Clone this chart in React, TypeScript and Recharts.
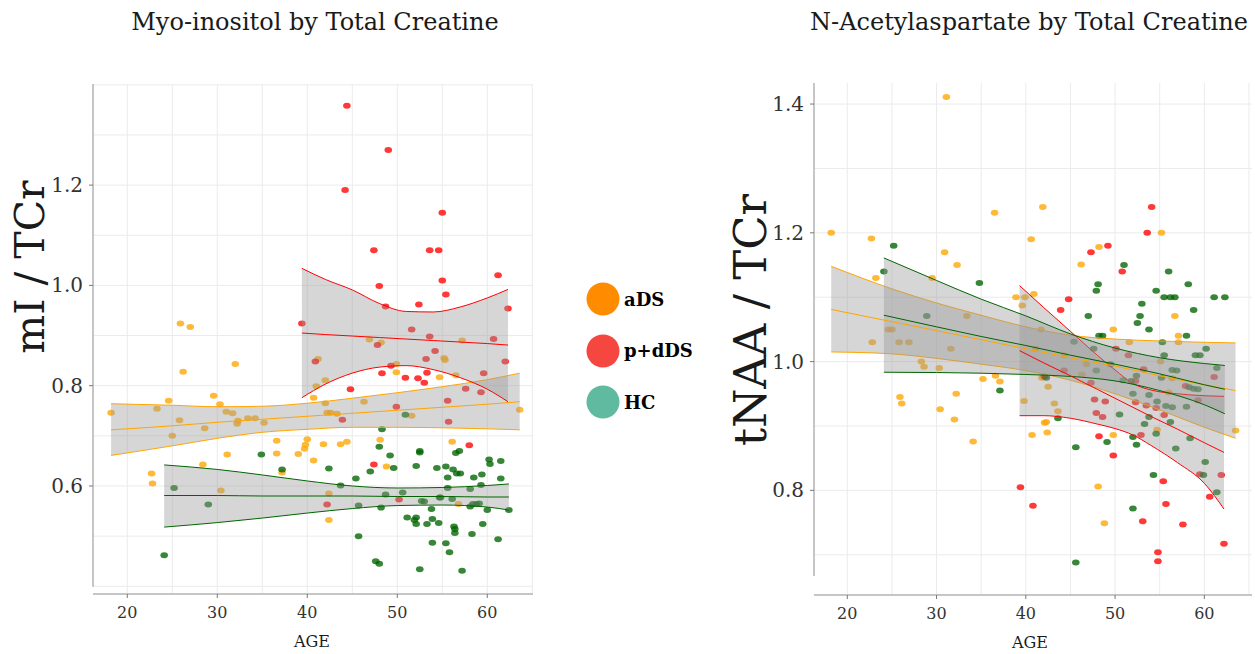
import React from 'react';
import { ComposedChart, Scatter, Area, Line, XAxis, YAxis, CartesianGrid, ReferenceLine } from 'recharts';

const FONT = '"DejaVu Serif", serif';

type Pt = [number, number];

// ---------- shared ticks ----------
const ageTicks = [20, 30, 40, 50, 60];
const ageGrid = [20, 25, 30, 35, 40, 45, 50, 55, 60, 65];
const miTicks = [0.6, 0.8, 1.0, 1.2];
const miGrid = [0.4, 0.5, 0.6, 0.7, 0.8, 0.9, 1.0, 1.1, 1.2, 1.3, 1.4];
const naaTicks = [0.8, 1.0, 1.2, 1.4];
const naaGrid = [0.7, 0.8, 0.9, 1.0, 1.1, 1.2, 1.3, 1.4];

const groupNames = ['aDS', 'p+dDS', 'HC'];
const groupColors = ['#FFA500', '#FF0000', '#006400'];
const legendColors = ['#FF8C00', '#F5473F', '#5FBA9F'];

// ---------- Myo-inositol / TCr points ----------
const miADS: Pt[] = [
  [18.2, 0.746], [22.7, 0.625], [22.8, 0.605], [23.3, 0.754], [24.6, 0.770], [25.0, 0.700], [25.8, 0.731],
  [25.9, 0.924], [26.2, 0.828], [27.0, 0.917], [28.4, 0.643], [28.6, 0.715], [29.6, 0.780], [30.3, 0.763],
  [30.4, 0.591], [31.0, 0.748], [31.1, 0.663], [31.7, 0.745], [32.0, 0.843], [32.2, 0.724], [32.3, 0.730],
  [33.4, 0.735], [34.2, 0.735], [35.2, 0.726], [36.6, 0.690], [36.6, 0.665], [37.2, 0.627], [39.0, 0.664],
  [39.7, 0.674], [39.8, 0.682], [40.0, 0.693], [40.7, 0.651], [40.7, 0.776], [41.0, 0.799], [41.2, 0.853],
  [41.8, 0.683], [42.0, 0.811], [42.0, 0.765], [42.2, 0.746], [42.4, 0.585], [42.4, 0.532], [42.6, 0.746],
  [43.3, 0.744], [43.7, 0.683], [44.4, 0.688], [46.3, 0.768], [46.9, 0.892], [48.1, 0.692], [48.2, 0.886],
  [48.8, 0.639], [49.9, 0.843], [49.9, 0.827], [51.6, 0.740], [54.7, 0.817], [55.2, 0.855], [55.3, 0.851],
  [56.1, 0.688], [56.5, 0.821], [56.8, 0.564], [57.2, 0.890], [63.6, 0.752],
];
const miPDDS: Pt[] = [
  [39.4, 0.924], [40.9, 0.848], [42.2, 0.563], [43.9, 0.732], [44.2, 1.190], [44.4, 1.358], [44.8, 0.793],
  [47.4, 1.070], [47.4, 0.643], [47.8, 0.881], [48.0, 0.999], [48.3, 0.825], [48.7, 0.958], [49.0, 1.270],
  [49.3, 0.840], [49.9, 0.758], [50.2, 0.573], [50.9, 0.816], [51.6, 0.912], [52.3, 0.815], [52.4, 0.962],
  [53.0, 0.806], [53.2, 0.853], [53.3, 0.826], [53.6, 1.070], [53.6, 0.898], [54.2, 0.869], [54.6, 1.070],
  [55.0, 1.145], [55.0, 1.010], [55.4, 0.982], [55.6, 0.770], [55.7, 0.728], [57.6, 0.794], [58.0, 0.681],
  [59.3, 0.787], [59.6, 0.825], [60.7, 0.893], [61.2, 1.020], [62.0, 0.848], [62.3, 0.954],
];
const miHC: Pt[] = [
  [24.1, 0.462], [25.2, 0.596], [29.0, 0.563], [34.9, 0.663], [37.2, 0.633], [42.4, 0.635], [43.7, 0.601],
  [45.4, 0.615], [45.7, 0.561], [45.7, 0.500], [47.0, 0.629], [47.6, 0.450], [48.0, 0.445], [48.0, 0.678],
  [48.2, 0.557], [48.3, 0.713], [48.7, 0.583], [49.2, 0.661], [49.6, 0.636], [50.6, 0.587], [50.9, 0.742],
  [51.1, 0.537], [51.9, 0.532], [52.1, 0.640], [52.1, 0.537], [52.1, 0.524], [52.5, 0.670], [52.5, 0.667],
  [52.5, 0.434], [52.7, 0.570], [53.0, 0.569], [53.3, 0.524], [53.8, 0.554], [53.9, 0.534], [53.9, 0.487],
  [54.4, 0.636], [54.6, 0.526], [54.7, 0.577], [54.8, 0.577], [55.4, 0.639], [55.4, 0.486], [55.6, 0.617],
  [55.6, 0.596], [55.8, 0.468], [56.1, 0.574], [56.2, 0.633], [56.3, 0.519], [56.4, 0.514], [56.4, 0.506],
  [56.5, 0.666], [56.6, 0.625], [56.9, 0.670], [57.0, 0.625], [57.2, 0.431], [58.1, 0.594], [58.1, 0.559],
  [58.3, 0.504], [58.4, 0.564], [58.5, 0.617], [58.8, 0.564], [59.1, 0.565], [59.3, 0.602], [59.4, 0.623],
  [59.5, 0.524], [60.0, 0.552], [60.2, 0.653], [60.3, 0.644], [61.2, 0.494], [61.5, 0.650], [61.5, 0.615],
  [62.4, 0.552],
];

// ---------- Myo-inositol fits (age, lower, fit, upper) ----------
const miFitAgeADS = [18.2, 25, 30, 35, 40, 45, 50, 55, 60, 63.6];
const miLoADS = [0.661, 0.680, 0.695, 0.707, 0.713, 0.717, 0.717, 0.716, 0.714, 0.712];
const miMidADS = [0.712, 0.720, 0.727, 0.733, 0.739, 0.745, 0.751, 0.757, 0.763, 0.768];
const miHiADS = [0.764, 0.761, 0.758, 0.759, 0.765, 0.775, 0.786, 0.798, 0.812, 0.825];

const miFitAgePD = [39.4, 42, 45, 48, 51, 54, 57, 60, 62.3];
const miLoPD = [0.776, 0.803, 0.825, 0.837, 0.840, 0.832, 0.816, 0.793, 0.768];
const miMidPD = [0.905, 0.902, 0.899, 0.896, 0.893, 0.890, 0.887, 0.884, 0.881];
const miHiPD = [1.034, 1.012, 0.991, 0.964, 0.948, 0.947, 0.957, 0.975, 0.992];

const miFitAgeHC = [24.1, 30, 35, 40, 45, 50, 55, 60, 62.4];
const miLoHC = [0.518, 0.527, 0.536, 0.546, 0.555, 0.561, 0.562, 0.558, 0.552];
const miMidHC = [0.581, 0.581, 0.580, 0.580, 0.580, 0.579, 0.579, 0.578, 0.578];
const miHiHC = [0.642, 0.633, 0.622, 0.610, 0.600, 0.596, 0.597, 0.601, 0.604];

// ---------- N-Acetylaspartate / TCr points ----------
const naaADS: Pt[] = [
  [18.2, 1.200], [22.7, 1.191], [22.8, 1.030], [23.2, 1.130], [24.6, 1.050], [25.0, 1.050], [25.8, 1.030],
  [25.9, 0.945], [26.1, 0.935], [26.9, 1.030], [28.3, 1.000], [28.6, 0.992], [29.5, 1.130], [30.3, 0.990],
  [30.4, 0.926], [30.9, 1.170], [31.1, 1.411], [31.6, 1.020], [32.0, 0.910], [32.2, 0.950], [32.3, 1.150],
  [33.4, 1.071], [34.1, 0.876], [35.2, 0.973], [36.5, 1.231], [36.6, 0.978], [37.1, 0.969], [38.9, 1.100],
  [39.6, 1.087], [39.8, 0.939], [39.9, 1.100], [40.6, 1.190], [40.7, 0.886], [40.9, 1.105], [41.1, 1.020],
  [41.7, 1.050], [41.8, 0.975], [41.9, 1.240], [42.0, 0.976], [42.1, 0.905], [42.3, 0.906], [42.4, 0.890],
  [42.5, 0.961], [43.2, 0.935], [43.6, 0.923], [44.3, 1.010], [46.2, 1.151], [46.3, 0.980], [46.8, 0.996],
  [48.1, 0.806], [48.2, 1.178], [48.8, 0.749], [49.8, 1.050], [49.8, 0.886], [51.6, 1.030], [54.7, 0.894],
  [55.1, 1.000], [55.2, 1.200], [56.0, 0.952], [56.4, 0.974], [56.7, 1.071], [57.1, 1.040], [57.1, 1.030],
  [63.5, 0.893],
];
const naaPDDS: Pt[] = [
  [39.4, 0.805], [40.8, 0.776], [42.1, 0.977], [43.9, 1.080], [44.3, 0.986], [44.8, 1.097], [47.3, 1.170],
  [47.3, 0.967], [47.7, 0.941], [47.9, 0.920], [48.2, 0.884], [48.6, 0.914], [48.9, 0.938], [49.2, 1.180],
  [49.8, 0.854], [50.1, 1.020], [50.8, 1.140], [51.5, 1.010], [52.3, 0.970], [52.3, 0.937], [52.9, 0.886],
  [53.1, 0.752], [53.2, 0.988], [53.5, 0.932], [53.6, 1.200], [54.1, 1.240], [54.6, 0.928], [54.8, 0.704],
  [54.8, 0.690], [55.4, 0.814], [55.5, 0.917], [55.7, 0.779], [57.6, 0.747], [57.9, 0.962], [59.3, 0.940],
  [59.5, 0.825], [60.6, 0.790], [61.1, 0.976], [61.9, 0.824], [62.2, 0.717],
];
const naaHC: Pt[] = [
  [24.1, 1.140], [25.2, 1.180], [28.9, 1.071], [34.8, 1.122], [37.1, 0.955], [42.3, 0.975], [43.6, 0.912],
  [45.4, 1.031], [45.6, 0.867], [45.6, 0.688], [47.0, 1.071], [47.6, 1.020], [47.9, 1.110], [47.9, 0.986],
  [48.1, 1.120], [48.2, 1.040], [48.6, 1.040], [49.1, 0.875], [49.5, 0.996], [50.5, 0.918], [50.9, 0.971],
  [51.0, 1.150], [51.8, 0.970], [52.0, 0.950], [52.0, 0.883], [52.0, 0.772], [52.4, 0.978], [52.4, 0.871],
  [52.5, 1.060], [52.8, 1.071], [53.0, 1.090], [53.3, 0.903], [53.8, 1.050], [53.8, 0.948], [53.8, 0.914],
  [54.3, 0.824], [54.6, 1.110], [54.6, 0.888], [54.7, 0.938], [55.2, 0.975], [55.3, 1.030], [55.5, 1.100],
  [55.5, 1.010], [55.7, 0.931], [56.0, 1.140], [56.2, 1.100], [56.2, 0.906], [56.4, 0.929], [56.4, 0.987],
  [56.7, 1.100], [56.8, 0.865], [56.9, 0.986], [58.0, 1.040], [58.0, 0.930], [58.2, 1.120], [58.3, 0.960],
  [58.4, 0.881], [58.8, 1.080], [58.8, 0.958], [59.0, 1.010], [59.3, 0.957], [59.5, 1.010], [59.9, 0.824],
  [60.1, 0.844], [60.2, 1.020], [61.1, 1.100], [61.4, 0.990], [61.4, 0.797], [62.3, 1.100],
];

// ---------- N-Acetylaspartate fits ----------
const naaFitAgeADS = [18.2, 25, 30, 35, 40, 45, 50, 55, 60, 63.5];
const naaLoADS = [1.015, 1.012, 1.005, 0.996, 0.986, 0.971, 0.950, 0.925, 0.898, 0.881];
const naaMidADS = [1.081, 1.062, 1.048, 1.034, 1.020, 1.006, 0.993, 0.978, 0.964, 0.955];
const naaHiADS = [1.148, 1.113, 1.091, 1.072, 1.054, 1.041, 1.035, 1.032, 1.030, 1.029];

const naaFitAgePD = [39.3, 42, 45, 48, 50, 52, 54, 57, 60, 62.2];
const naaLoPD = [0.916, 0.916, 0.912, 0.903, 0.896, 0.886, 0.870, 0.843, 0.811, 0.771];
const naaMidPD = [1.017, 0.998, 0.978, 0.957, 0.943, 0.929, 0.915, 0.895, 0.874, 0.859];
const naaHiPD = [1.118, 1.084, 1.047, 1.010, 0.987, 0.966, 0.956, 0.950, 0.947, 0.946];

const naaFitAgeHC = [24.1, 30, 35, 40, 45, 50, 55, 60, 62.3];
const naaLoHC = [0.9835, 0.983, 0.982, 0.980, 0.977, 0.970, 0.955, 0.933, 0.919];
const naaMidHC = [1.072, 1.054, 1.039, 1.025, 1.010, 0.996, 0.981, 0.964, 0.957];
const naaHiHC = [1.161, 1.126, 1.097, 1.071, 1.043, 1.021, 1.006, 0.997, 0.994];

// ---------- helpers ----------
const toPoints = (arr: Pt[]) => arr.map(([age, value]) => ({ age, value }));
const toFit = (ages: number[], lo: number[], mid: number[], hi: number[]) =>
  ages.map((age, i) => ({ age, band: [lo[i], hi[i]], mid: mid[i] }));

const makeDot = (color: string) => (props: any) => {
  if (props.cx == null || props.cy == null) return <g />;
  return <ellipse cx={props.cx} cy={props.cy} rx={3.8} ry={3.0} fill={color} fillOpacity={0.78} />;
};

type Group = { points: { age: number; value: number }[]; fit: any[]; color: string };

type PanelProps = {
  left: number;
  width: number;
  plotLeft: number;
  plotRight: number;
  plotTop: number;
  plotBottom: number;
  xDomain: [number, number];
  yDomain: [number, number];
  yAxisLow: number;
  yTicks: number[];
  hGrid: number[];
  groups: Group[];
};

const Y_W = 60;
const X_H = 60;

function Panel(p: PanelProps) {
  return (
    <div style={{ position: 'absolute', left: p.left, top: 0 }}>
      <ComposedChart
        width={p.width}
        height={654}
        margin={{ top: p.plotTop, right: p.width - p.plotRight, bottom: 654 - p.plotBottom - X_H, left: p.plotLeft - Y_W }}
      >
        <CartesianGrid stroke="#ebebeb" strokeWidth={1} horizontalValues={p.hGrid} verticalValues={ageGrid} />
        <XAxis
          type="number"
          dataKey="age"
          domain={p.xDomain}
          ticks={ageTicks}
          allowDataOverflow
          height={X_H}
          tickSize={4}
          tickMargin={9}
          tick={{ fontSize: 16, fill: '#333', fontFamily: FONT }}
          tickLine={{ stroke: '#777' }}
          axisLine={{ stroke: '#b3b3b3', strokeWidth: 1.5 }}
        />
        <YAxis
          type="number"
          dataKey="value"
          domain={p.yDomain}
          ticks={p.yTicks}
          allowDataOverflow
          width={Y_W}
          tickSize={4}
          tickMargin={6}
          tickFormatter={(v: number) => v.toFixed(1)}
          tick={{ fontSize: 20, fill: '#333', fontFamily: FONT }}
          tickLine={{ stroke: '#777' }}
          axisLine={false}
        />
        <ReferenceLine
          segment={[
            { x: p.xDomain[0], y: p.yAxisLow },
            { x: p.xDomain[0], y: p.yDomain[1] },
          ]}
          stroke="#b3b3b3"
          strokeWidth={1.5}
          ifOverflow="visible"
        />
        {p.groups.map((g, i) => (
          <Scatter key={'s' + i} data={g.points} shape={makeDot(g.color)} isAnimationActive={false} />
        ))}
        {p.groups.map((g, i) => (
          <Area
            key={'a' + i}
            data={g.fit}
            dataKey="band"
            type="monotone"
            stroke={g.color}
            strokeWidth={1}
            fill="#999999"
            fillOpacity={0.4}
            dot={false}
            activeDot={false}
            isAnimationActive={false}
            zIndex={700}
          />
        ))}
        {p.groups.map((g, i) => (
          <Line
            key={'l' + i}
            data={g.fit}
            dataKey="mid"
            type="monotone"
            stroke={g.color}
            strokeWidth={1}
            dot={false}
            activeDot={false}
            isAnimationActive={false}
            zIndex={800}
          />
        ))}
      </ComposedChart>
    </div>
  );
}

const txt: React.CSSProperties = { position: 'absolute', fontFamily: FONT, color: '#1a1a1a', whiteSpace: 'nowrap', lineHeight: 1 };

export default function App() {
  const miGroups: Group[] = [
    { points: toPoints(miADS), fit: toFit(miFitAgeADS, miLoADS, miMidADS, miHiADS), color: groupColors[0] },
    { points: toPoints(miPDDS), fit: toFit(miFitAgePD, miLoPD, miMidPD, miHiPD), color: groupColors[1] },
    { points: toPoints(miHC), fit: toFit(miFitAgeHC, miLoHC, miMidHC, miHiHC), color: groupColors[2] },
  ];
  const naaGroups: Group[] = [
    { points: toPoints(naaADS), fit: toFit(naaFitAgeADS, naaLoADS, naaMidADS, naaHiADS), color: groupColors[0] },
    { points: toPoints(naaPDDS), fit: toFit(naaFitAgePD, naaLoPD, naaMidPD, naaHiPD), color: groupColors[1] },
    { points: toPoints(naaHC), fit: toFit(naaFitAgeHC, naaLoHC, naaMidHC, naaHiHC), color: groupColors[2] },
  ];

  return (
    <div style={{ position: 'absolute', left: 0, top: 0, width: 1255, height: 654, background: '#fff', overflow: 'hidden' }}>
      <Panel
        left={0}
        width={560}
        plotLeft={93}
        plotRight={533}
        plotTop={84}
        plotBottom={594}
        xDomain={[16.19, 65.08]}
        yDomain={[0.3846, 1.4016]}
        yAxisLow={0.399}
        yTicks={miTicks}
        hGrid={miGrid}
        groups={miGroups}
      />
      <Panel
        left={700}
        width={555}
        plotLeft={114}
        plotRight={552}
        plotTop={83}
        plotBottom={595}
        xDomain={[16.27, 65.34]}
        yDomain={[0.6375, 1.4327]}
        yAxisLow={0.667}
        yTicks={naaTicks}
        hGrid={naaGrid}
        groups={naaGroups}
      />

      {/* titles */}
      <div style={{ ...txt, left: 15, width: 600, top: 10, fontSize: 24, textAlign: 'center' }}>Myo-inositol by Total Creatine</div>
      <div style={{ ...txt, left: 729, width: 600, top: 10, fontSize: 24, textAlign: 'center' }}>N-Acetylaspartate by Total Creatine</div>

      {/* axis titles */}
      <div style={{ ...txt, left: 30, top: 267, fontSize: 41, transform: 'translate(-50%, -50%) rotate(-90deg)' }}>mI / TCr</div>
      <div style={{ ...txt, left: 750, top: 320, fontSize: 45, transform: 'translate(-50%, -50%) rotate(-90deg)' }}>tNAA / TCr</div>
      <div style={{ ...txt, left: 312, top: 642, fontSize: 16, transform: 'translate(-50%, -50%)' }}>AGE</div>
      <div style={{ ...txt, left: 1030, top: 643, fontSize: 16, transform: 'translate(-50%, -50%)' }}>AGE</div>

      {/* legend */}
      {groupNames.map((name, i) => (
        <div key={name} style={{ position: 'absolute', left: 586, top: 282 + i * 51.5, height: 34, display: 'flex', alignItems: 'center' }}>
          <svg width={34} height={34}>
            <circle cx={17} cy={17} r={16.5} fill={legendColors[i]} />
          </svg>
          <span style={{ fontFamily: FONT, fontWeight: 'bold', fontSize: 18, color: '#000', marginLeft: 4 }}>{name}</span>
        </div>
      ))}
    </div>
  );
}
